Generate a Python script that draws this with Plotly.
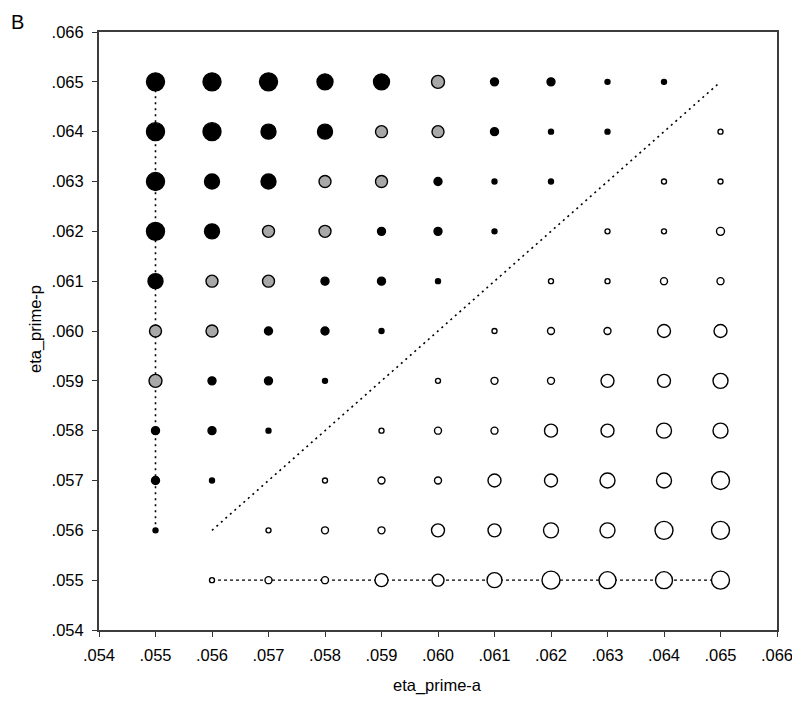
import plotly.graph_objects as go

# ---- data ----
eta_a = [0.055, 0.056, 0.057, 0.058, 0.059, 0.060, 0.061, 0.062, 0.063, 0.064, 0.065]
eta_p = [0.065, 0.064, 0.063, 0.062, 0.061, 0.060, 0.059, 0.058, 0.057, 0.056, 0.055]

# magnitude of each cell (rows follow eta_p, columns follow eta_a); None = no point
magnitude = [
    [18, 18, 18, 16, 16, 13, 8, 8, 5, 5, None],
    [18, 18, 15, 15, 12, 12, 8, 5, 5, None, 5],
    [18, 15, 15, 12, 12, 8, 5, 5, None, 5, 5],
    [18, 15, 12, 12, 8, 8, 5, None, 5, 5, 8],
    [15, 12, 12, 8, 8, 5, None, 5, 5, 7, 7],
    [12, 12, 8, 8, 5, None, 5, 7, 7, 13, 13],
    [13, 8, 8, 5, None, 5, 7, 7, 13, 13, 15],
    [8, 8, 5, None, 5, 7, 7, 13, 13, 15, 15],
    [8, 5, None, 5, 7, 7, 13, 13, 15, 15, 18],
    [5, None, 5, 7, 7, 13, 13, 15, 15, 18, 18],
    [None, 5, 7, 7, 13, 12, 15, 18, 17, 17, 18],
]
# class of each cell: B = black, G = grey, W = white
klass = [
    "BBBBBGBBBB-",
    "BBBBGGBBB-W",
    "BBBGGBBB-WW",
    "BBGGBBB-WWW",
    "BGGBBB-WWWW",
    "GGBBB-WWWWW",
    "GBBB-WWWWWW",
    "BBB-WWWWWWW",
    "BB-WWWWWWWW",
    "B-WWWWWWWWW",
    "-WWWWWWWWWW",
]

vline_x = [0.055, 0.055]
vline_y = [0.056, 0.065]
hline_x = [0.056, 0.065]
hline_y = [0.055, 0.055]
diag_x = [0.056, 0.065]
diag_y = [0.056, 0.065]

tick_vals = [0.054, 0.055, 0.056, 0.057, 0.058, 0.059, 0.060, 0.061, 0.062, 0.063, 0.064, 0.065, 0.066]
tick_text = [".054", ".055", ".056", ".057", ".058", ".059", ".060", ".061", ".062", ".063", ".064", ".065", ".066"]

FONT = "Liberation Sans, Arial, sans-serif"
fills = {"B": "black", "G": "#a8a8a8", "W": "white"}

fig = go.Figure()

line_style = dict(color="black", width=1.6)
fig.add_trace(go.Scatter(x=vline_x, y=vline_y, mode="lines",
                         line=dict(line_style, dash="2px,4px"), hoverinfo="skip"))
fig.add_trace(go.Scatter(x=diag_x, y=diag_y, mode="lines",
                         line=dict(line_style, dash="2px,4px"), hoverinfo="skip"))
fig.add_trace(go.Scatter(x=hline_x, y=hline_y, mode="lines",
                         line=dict(color="black", width=1.2, dash="3px,3px"), hoverinfo="skip"))

for cls in ["B", "G", "W"]:
    xs, ys, ss = [], [], []
    for i, yv in enumerate(eta_p):
        for j, xv in enumerate(eta_a):
            if klass[i][j] == cls and magnitude[i][j] is not None:
                xs.append(xv)
                ys.append(yv)
                ss.append(magnitude[i][j])
    fig.add_trace(go.Scatter(
        x=xs, y=ys, mode="markers",
        marker=dict(size=ss, color=fills[cls], opacity=1,
                    line=dict(color="black", width=1.4)),
    ))

axis_common = dict(
    range=[0.054, 0.066],
    tickmode="array", tickvals=tick_vals, ticktext=tick_text,
    ticks="outside", ticklen=5, tickwidth=1.3, tickcolor="#333",
    showline=True, linecolor="#3c3c3c", linewidth=2, mirror=True,
    showgrid=False, zeroline=False, automargin=False,
    tickfont=dict(family=FONT, size=16.5, color="black"),
)

# the page adds an 8px body margin, so the figure is drawn 8px smaller and offset
OFF = 8
W, H = 800 - OFF, 702 - OFF
L, T, R, B = 99 - OFF, 32 - OFF, 23, 72
PW, PH = W - L - R, H - T - B

fig.update_layout(
    width=W, height=H,
    margin=dict(l=L, r=R, t=T, b=B),
    paper_bgcolor="white", plot_bgcolor="white",
    showlegend=False,
    xaxis=dict(axis_common, ticklabelstandoff=4),
    yaxis=dict(axis_common, ticklabelstandoff=5),
    annotations=[
        dict(text="B", x=-(L - 1) / PW, y=1 + (T - 1) / PH, xref="paper", yref="paper",
             xanchor="left", yanchor="top", showarrow=False,
             font=dict(family=FONT, size=20, color="black")),
        dict(text="eta_prime-a", x=(437 - 99) / PW, y=-(685 - 630) / PH,
             xref="paper", yref="paper", xanchor="center", yanchor="middle",
             showarrow=False, font=dict(family=FONT, size=16.5, color="black")),
        dict(text="eta_prime-p", x=-(99 - 35) / PW, y=(630 - 329) / PH,
             xref="paper", yref="paper", xanchor="center", yanchor="middle",
             textangle=-90, showarrow=False,
             font=dict(family=FONT, size=16.5, color="black")),
    ],
)

fig.write_html("out.html")
